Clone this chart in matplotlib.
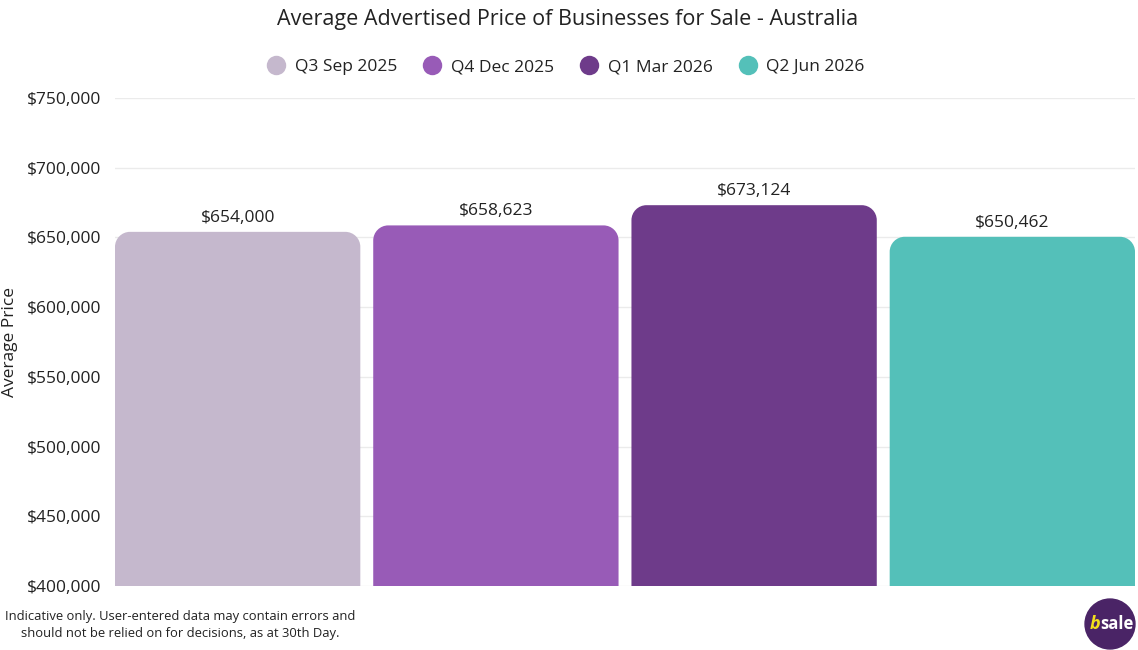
import matplotlib
matplotlib.use("Agg")
import matplotlib.pyplot as plt
from matplotlib.path import Path
from matplotlib.patches import PathPatch, Circle
from matplotlib.lines import Line2D

plt.rcParams['font.family'] = ['Open Sans', 'DejaVu Sans']

categories = ["Q3 Sep 2025", "Q4 Dec 2025", "Q1 Mar 2026", "Q2 Jun 2026"]
values = [654000, 658623, 673124, 650462]
value_labels = ["$654,000", "$658,623", "$673,124", "$650,462"]
colors = ["#C5B8CD", "#985BB7", "#6E3B8A", "#54C0B9"]
yticks = [400000, 450000, 500000, 550000, 600000, 650000, 700000, 750000]
ytick_labels = ["$400,000", "$450,000", "$500,000", "$550,000", "$600,000", "$650,000", "$700,000", "$750,000"]

W, H = 1138, 650
fig = plt.figure(figsize=(W / 100, H / 100), dpi=100)
ax_l, ax_r = 115, 1135
ax = fig.add_axes([ax_l / W, 1 - 586 / H, (ax_r - ax_l) / W, 488 / H])
ymin, ymax = 400000, 750000
ax.set_ylim(ymin, ymax)
bar_w = 0.95
n = len(categories)
ax.set_xlim(-bar_w / 2, n - 1 + bar_w / 2)

bars = ax.bar(range(n), values, width=bar_w, bottom=0, color=colors)

# replace with rounded-top shapes
px_x = (n - 1 + bar_w) / float(ax_r - ax_l)
px_y = (ymax - ymin) / 488.0
r_px = 15
for i, (b, c) in enumerate(zip(bars, colors)):
    x0 = b.get_x(); x1 = x0 + b.get_width(); top = b.get_height(); bot = ymin - 5000
    rx = r_px * px_x; ry = r_px * px_y
    k = 0.5523
    verts = [(x0, bot), (x0, top - ry),
             (x0, top - ry + k * ry), (x0 + rx - k * rx, top), (x0 + rx, top),
             (x1 - rx, top),
             (x1 - rx + k * rx, top), (x1, top - ry + k * ry), (x1, top - ry),
             (x1, bot), (x0, bot)]
    codes = [Path.MOVETO, Path.LINETO, Path.CURVE4, Path.CURVE4, Path.CURVE4,
             Path.LINETO, Path.CURVE4, Path.CURVE4, Path.CURVE4, Path.LINETO, Path.CLOSEPOLY]
    patch = PathPatch(Path(verts, codes), facecolor=c, edgecolor='none', zorder=3)
    b.set_visible(False)
    ax.add_patch(patch)
    ax.text(b.get_x() + b.get_width() / 2, top + 6 * px_y, value_labels[i],
            ha='center', va='bottom', fontsize=12.5, color='#222222', zorder=4)

ax.set_yticks(yticks)
ax.set_yticklabels(ytick_labels, fontsize=12.5, color='#222222')
ax.set_xticks([])
ax.tick_params(axis='y', length=0, pad=10)
ax.grid(axis='y', color='#EBEBEB', linewidth=1, zorder=0)
ax.set_axisbelow(True)
for s in ax.spines.values():
    s.set_visible(False)

fig.text(10 / W, 1 - 342 / H, "Average Price", rotation=90, ha='center', va='center',
         fontsize=12.5, color='#222222')

fig.text(568 / W, 1 - 20 / H, "Average Advertised Price of Businesses for Sale - Australia",
         ha='center', va='center', fontsize=15.5, color='#222222')

handles = [Line2D([], [], marker='o', linestyle='none', markersize=14, markerfacecolor=c,
                  markeredgecolor='none') for c in colors]
fig.legend(handles, categories, loc='center', bbox_to_anchor=(564 / W, 1 - 67 / H), ncol=4,
           frameon=False, fontsize=12.5, handletextpad=0.3, columnspacing=1.3,
           handlelength=1.5, labelcolor='#222222')

fig.text(180 / W, 1 - 625 / H,
         "Indicative only. User-entered data may contain errors and\nshould not be relied on for decisions, as at 30th Day.",
         ha='center', va='center', fontsize=9.4, color='#222222', linespacing=1.45)

# logo
lax = fig.add_axes([1084 / W, 1 - 650 / H, 52 / W, 52 / H])
lax.set_xlim(0, 1); lax.set_ylim(0, 1); lax.axis('off')
lax.add_patch(Circle((0.5, 0.5), 0.48, color='#4A2466'))
lax.text(0.31, 0.5, "b", color='#F4E01C', fontsize=13, fontweight='bold', ha='right', va='center', style='italic')
lax.text(0.31, 0.5, "sale", color='white', fontsize=12, fontweight='bold', ha='left', va='center')

fig.savefig("out.png", dpi=100, facecolor='white')
